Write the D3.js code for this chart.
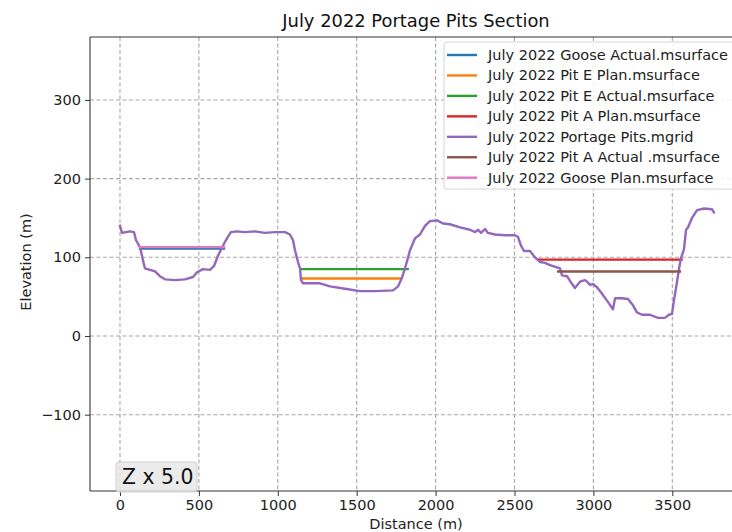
<!DOCTYPE html>
<html>
<head>
<meta charset="utf-8">
<script src="https://cdn.jsdelivr.net/npm/d3@7"></script>
<style>
  body { margin: 0; background: #fff; }
  svg { font-family: "DejaVu Sans", sans-serif; }
</style>
</head>
<body>
<script>
// Section profile (distance m, elevation m)
const profileDist = [0, 13, 63, 89, 101, 127, 146, 158, 190, 222, 253, 285, 349, 412, 463, 488, 526, 570, 596, 621, 653, 678, 703, 741, 792, 855, 919, 982, 1046, 1077, 1096, 1109, 1128, 1141, 1147, 1160, 1267, 1331, 1426, 1521, 1616, 1730, 1762, 1787, 1812, 1838, 1869, 1901, 1933, 1964, 2009, 2047, 2091, 2155, 2218, 2250, 2269, 2288, 2313, 2332, 2376, 2440, 2503, 2522, 2541, 2560, 2598, 2630, 2662, 2693, 2725, 2788, 2801, 2833, 2865, 2883, 2915, 2947, 2960, 2979, 2997, 3023, 3061, 3093, 3124, 3137, 3181, 3219, 3251, 3276, 3308, 3358, 3409, 3453, 3479, 3498, 3511, 3530, 3543, 3555, 3574, 3587, 3599, 3625, 3657, 3701, 3752, 3764];
const profileElev = [140, 131, 133, 132, 122, 113, 96, 86, 84, 82, 76, 72, 71, 72, 75, 81, 85, 84, 89, 102, 115, 124, 132, 133, 132, 133, 131, 132, 132, 129, 122, 109, 94, 86, 71, 67, 67, 63, 60, 57, 57, 58, 63, 74, 90, 109, 124, 129, 140, 146, 147, 143, 142, 138, 135, 132, 135, 131, 136, 131, 129, 128, 128, 126, 115, 108, 108, 100, 94, 93, 90, 86, 77, 76, 66, 61, 69, 71, 69, 65, 66, 62, 52, 43, 34, 48, 48, 47, 39, 30, 27, 27, 23, 23, 27, 28, 46, 69, 86, 99, 110, 135, 138, 150, 160, 162, 161, 157];

// Surfaces: [start distance, end distance] and elevations
const gooseActualDist = [127, 659];   const gooseActualElev = [111, 111];
const pitEPlanDist = [1151, 1778];    const pitEPlanElev = [73, 73];
const pitEActualDist = [1151, 1823];  const pitEActualElev = [85, 85];
const pitAPlanDist = [2651, 3559];    const pitAPlanElev = [97, 97];
const pitAActualDist = [2777, 3548];  const pitAActualElev = [82, 82];
const goosePlanDist = [127, 659];     const goosePlanElev = [113, 113];

const seriesNames = ["July 2022 Goose Actual.msurface", "July 2022 Pit E Plan.msurface", "July 2022 Pit E Actual.msurface", "July 2022 Pit A Plan.msurface", "July 2022 Portage Pits.mgrid", "July 2022 Pit A Actual .msurface", "July 2022 Goose Plan.msurface"];
const xTicks = [0, 500, 1000, 1500, 2000, 2500, 3000, 3500];
const yTicks = [-100, 0, 100, 200, 300];

const colors = ["#1f77b4", "#ff7f0e", "#2ca02c", "#d62728", "#9467bd", "#8c564b", "#e377c2"];
const series = [
  [gooseActualDist, gooseActualElev],
  [pitEPlanDist, pitEPlanElev],
  [pitEActualDist, pitEActualElev],
  [pitAPlanDist, pitAPlanElev],
  [profileDist, profileElev],
  [pitAActualDist, pitAActualElev],
  [goosePlanDist, goosePlanElev]
];

const W = 732, H = 532;
const pLeft = 90, pRight = 746, pTop = 37, pBottom = 491;
const fs = 14.5;

const svg = d3.select("body").append("svg")
  .attr("width", W)
  .attr("height", H);

const x = d3.scaleLinear().domain([-190, 3967]).range([pLeft, pRight]);
const y = d3.scaleLinear().domain([-197, 380]).range([pBottom, pTop]);

// grid
const grid = svg.append("g");
grid.selectAll(".gx").data(xTicks).enter().append("line")
  .attr("x1", d => x(d)).attr("x2", d => x(d))
  .attr("y1", pTop).attr("y2", pBottom)
  .attr("stroke", "#a8a8a8").attr("stroke-width", 1.1)
  .attr("stroke-dasharray", "4,2.5");
grid.selectAll(".gy").data(yTicks).enter().append("line")
  .attr("x1", pLeft).attr("x2", pRight)
  .attr("y1", d => y(d)).attr("y2", d => y(d))
  .attr("stroke", "#a8a8a8").attr("stroke-width", 1.1)
  .attr("stroke-dasharray", "4,2.5");

// lines
const line = d3.line().x(d => x(d[0])).y(d => y(d[1]));
series.forEach((s, i) => {
  const pts = s[0].map((d, j) => [d, s[1][j]]);
  svg.append("path")
    .attr("d", line(pts))
    .attr("fill", "none")
    .attr("stroke", colors[i])
    .attr("stroke-width", 2.4)
    .attr("stroke-linejoin", "round")
    .attr("stroke-linecap", "square");
});

// axes
const xAxis = svg.append("g")
  .attr("transform", "translate(0," + pBottom + ")")
  .call(d3.axisBottom(x).tickValues(xTicks).tickFormat(d3.format("d")).tickSize(5).tickPadding(4));
const yAxis = svg.append("g")
  .attr("transform", "translate(" + pLeft + ",0)")
  .call(d3.axisLeft(y).tickValues(yTicks).tickFormat(d => d < 0 ? "\u2212" + Math.abs(d) : d).tickSize(5).tickPadding(4));
[xAxis, yAxis].forEach(a => {
  a.select(".domain").remove();
  a.selectAll("text").attr("font-size", fs).attr("fill", "#222")
    .attr("font-family", "DejaVu Sans");
  a.selectAll("line").attr("stroke", "#333");
});

// spines
svg.append("line").attr("x1", pLeft).attr("x2", pLeft).attr("y1", pTop).attr("y2", pBottom)
  .attr("stroke", "#333").attr("stroke-width", 1.1);
svg.append("line").attr("x1", pLeft).attr("x2", pRight).attr("y1", pBottom).attr("y2", pBottom)
  .attr("stroke", "#333").attr("stroke-width", 1.1);
svg.append("line").attr("x1", pLeft).attr("x2", pRight).attr("y1", pTop).attr("y2", pTop)
  .attr("stroke", "#333").attr("stroke-width", 1.1);

// title and labels
svg.append("text").attr("x", 416).attr("y", 27).attr("text-anchor", "middle")
  .attr("font-size", 17.9).attr("fill", "#111").text("July 2022 Portage Pits Section");
svg.append("text").attr("x", 416).attr("y", 529).attr("text-anchor", "middle")
  .attr("font-size", fs).attr("fill", "#222").text("Distance (m)");
svg.append("text").attr("transform", "translate(31,262) rotate(-90)")
  .attr("text-anchor", "middle")
  .attr("font-size", fs).attr("fill", "#222").text("Elevation (m)");

// Z box
svg.append("rect").attr("x", 116).attr("y", 462).attr("width", 81).attr("height", 30)
  .attr("rx", 3).attr("fill", "#e6e6e6").attr("fill-opacity", 0.8)
  .attr("stroke", "#d0d0d0");
svg.append("text").attr("x", 122).attr("y", 484)
  .attr("font-size", 20.4).attr("fill", "#111").text("Z x 5.0");

// legend
const lg = svg.append("g");
lg.append("rect").attr("x", 444).attr("y", 42).attr("width", 300).attr("height", 147)
  .attr("rx", 3).attr("fill", "#fff").attr("fill-opacity", 0.85)
  .attr("stroke", "#d5d5d5");
seriesNames.forEach((name, i) => {
  const yy = 55 + i * 20.45;
  lg.append("line").attr("x1", 447).attr("x2", 477).attr("y1", yy).attr("y2", yy)
    .attr("stroke", colors[i]).attr("stroke-width", 2.4);
  lg.append("text").attr("x", 488).attr("y", yy + 5)
    .attr("font-size", fs).attr("fill", "#222").text(name);
});
</script>
</body>
</html>
